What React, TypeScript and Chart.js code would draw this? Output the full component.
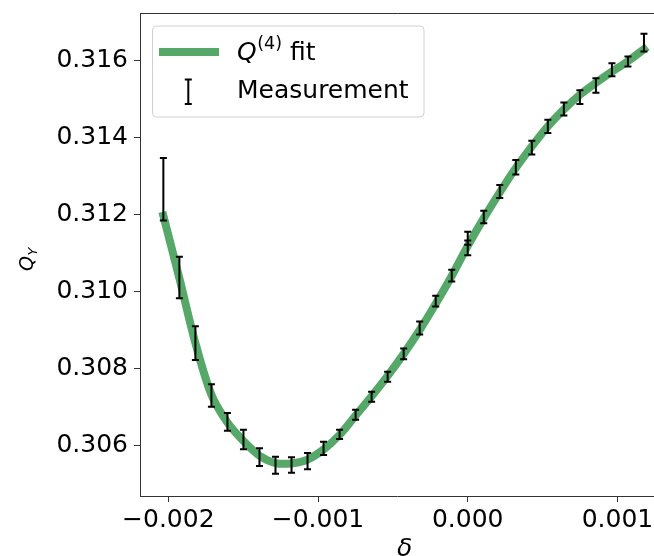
import React, { useEffect, useRef } from 'react';
import { Chart, registerables } from 'chart.js';

Chart.register(...registerables);

// ---- data ----
const MEAS_DELTA = [
  -0.002033, -0.001926, -0.001819, -0.001712, -0.001605, -0.001498, -0.001391, -0.001284,
  -0.001177, -0.00107, -0.000963, -0.000856, -0.000749, -0.000642, -0.000535, -0.000428,
  -0.000321, -0.000214, -0.000107, 0.0, 0.0, 0.000107, 0.000214, 0.000321, 0.000428,
  0.000535, 0.000642, 0.000749, 0.000856, 0.000963, 0.00107, 0.001177,
];
const MEAS_Q = [
  0.31265, 0.31036, 0.30866, 0.3073, 0.30662, 0.30616, 0.3057, 0.30549,
  0.3055, 0.3056, 0.30593, 0.30629, 0.3068, 0.30727, 0.30779, 0.30838,
  0.30905, 0.30975, 0.31041, 0.31138, 0.31113, 0.31193, 0.31259, 0.31322, 0.31373,
  0.31428, 0.31473, 0.31504, 0.31534, 0.31575, 0.31596, 0.31645,
];
const MEAS_ERR = [
  0.00081, 0.00054, 0.00044, 0.00029, 0.00023, 0.00025, 0.00023, 0.00022,
  0.0002, 0.00021, 0.00017, 0.00012, 0.00013, 0.00013, 0.00013, 0.00014,
  0.00017, 0.00014, 0.00015, 0.00017, 0.00019, 0.00016, 0.00017, 0.00019, 0.00018,
  0.00017, 0.00017, 0.00018, 0.00019, 0.00017, 0.00013, 0.00023,
];
const FIT_DELTA = [
  -0.002033, -0.001926, -0.001819, -0.001712, -0.001605, -0.001498, -0.001391, -0.001284,
  -0.001177, -0.00107, -0.000963, -0.000856, -0.000749, -0.000642, -0.000535, -0.000428,
  -0.000321, -0.000214, -0.000107, 0.0, 0.000107, 0.000214, 0.000321, 0.000428,
  0.000535, 0.000642, 0.000749, 0.000856, 0.000963, 0.00107, 0.001177,
];
const FIT_Q = [
  0.31196, 0.31034, 0.30866, 0.30732, 0.3066, 0.30612, 0.30574, 0.30555,
  0.30554, 0.30564, 0.3059, 0.30628, 0.30678, 0.30728, 0.30781, 0.30838,
  0.309, 0.30968, 0.3104, 0.31118, 0.3119, 0.31257, 0.3132, 0.31376,
  0.31428, 0.31472, 0.3151, 0.31541, 0.3157, 0.31597, 0.31628,
];
const X_TICKS = [-0.002, -0.001, 0.0, 0.001];
const X_TICK_LABELS = ['\u22120.002', '\u22120.001', '0.000', '0.001'];
const Y_TICKS = [0.306, 0.308, 0.31, 0.312, 0.314, 0.316];
const Y_TICK_LABELS = ['0.306', '0.308', '0.310', '0.312', '0.314', '0.316'];
// visible window: the original plot continues past the right edge of the picture
const X_MIN = -0.002189;
const X_MAX = 0.001244;
const Y_MIN = 0.304695;
const Y_MAX = 0.31722;

const FIT_LABEL = 'fit';
const MEAS_LABEL = 'Measurement';
const X_TITLE = '\u03b4';
const X_TITLE_CENTER = -0.000422; // centre of the full (uncropped) axis

const FONT = '"DejaVu Sans", sans-serif';
const GREEN = '#55a868';
const SPINE = '#333333';

const errorBarPlugin = {
  id: 'errorBars',
  afterDatasetsDraw(chart: any) {
    const { ctx } = chart;
    const x = chart.scales.x;
    const y = chart.scales.y;
    const ds = chart.data.datasets[1];
    ctx.save();
    ctx.strokeStyle = '#000';
    ctx.lineWidth = 2;
    ctx.lineCap = 'butt';
    ds.data.forEach((p: any) => {
      const px = x.getPixelForValue(p.x);
      const top = y.getPixelForValue(p.y + p.err);
      const bot = y.getPixelForValue(p.y - p.err);
      ctx.beginPath();
      ctx.moveTo(px, top);
      ctx.lineTo(px, bot);
      ctx.moveTo(px - 3.5, top);
      ctx.lineTo(px + 3.5, top);
      ctx.moveTo(px - 3.5, bot);
      ctx.lineTo(px + 3.5, bot);
      ctx.stroke();
    });
    ctx.restore();
  },
};

const decorPlugin = {
  id: 'decor',
  afterDraw(chart: any) {
    const { ctx, chartArea } = chart;
    const { left, top, right } = chartArea;
    const xs = chart.scales.x;
    ctx.save();
    // top spine
    ctx.strokeStyle = SPINE;
    ctx.lineWidth = 1;
    ctx.beginPath();
    ctx.moveTo(left, Math.round(top) + 0.5);
    ctx.lineTo(right + 2, Math.round(top) + 0.5);
    ctx.stroke();

    // legend box
    const bx = left + 12.5;
    const by = top + 13;
    const bw = 271.5;
    const bh = 91;
    ctx.beginPath();
    ctx.roundRect(bx, by, bw, bh, 4);
    ctx.fillStyle = 'rgba(255,255,255,0.8)';
    ctx.fill();
    ctx.strokeStyle = '#d0d0d0';
    ctx.lineWidth = 1;
    ctx.stroke();

    // fit handle
    ctx.strokeStyle = GREEN;
    ctx.lineWidth = 8;
    ctx.lineCap = 'butt';
    ctx.beginPath();
    ctx.moveTo(bx + 6.5, by + 26);
    ctx.lineTo(bx + 66.5, by + 26);
    ctx.stroke();

    // errorbar handle
    const ex = bx + 35.8;
    ctx.strokeStyle = '#000';
    ctx.lineWidth = 2;
    ctx.beginPath();
    ctx.moveTo(ex, by + 53.5);
    ctx.lineTo(ex, by + 78);
    ctx.moveTo(ex - 3.5, by + 53.5);
    ctx.lineTo(ex + 3.5, by + 53.5);
    ctx.moveTo(ex - 3.5, by + 78);
    ctx.lineTo(ex + 3.5, by + 78);
    ctx.stroke();

    // legend text
    ctx.fillStyle = '#000';
    ctx.textBaseline = 'alphabetic';
    ctx.textAlign = 'left';
    let tx = bx + 84.5;
    ctx.font = `italic 25px ${FONT}`;
    ctx.fillText('Q', tx, by + 34);
    tx += ctx.measureText('Q').width + 0.5;
    ctx.font = `17.5px ${FONT}`;
    ctx.fillText('(4)', tx, by + 23);
    tx += ctx.measureText('(4)').width;
    ctx.font = `25px ${FONT}`;
    ctx.fillText(' ' + FIT_LABEL, tx, by + 34);
    ctx.fillText(MEAS_LABEL, bx + 84.5, by + 72);

    // x title
    ctx.font = `italic 25px ${FONT}`;
    ctx.textAlign = 'center';
    ctx.fillText(X_TITLE, xs.getPixelForValue(X_TITLE_CENTER), 556);

    // y title  Q_Y
    ctx.translate(33, 271);
    ctx.rotate(-Math.PI / 2);
    ctx.textAlign = 'left';
    ctx.font = `italic 19px ${FONT}`;
    ctx.fillText('Q', 0, 0);
    const qw = ctx.measureText('Q').width;
    ctx.font = `italic 13px ${FONT}`;
    ctx.fillText('Y', qw + 0.5, 3.5);
    ctx.restore();
  },
};

export default function App() {
  const ref = useRef<HTMLCanvasElement | null>(null);

  useEffect(() => {
    if (!ref.current) return;
    const chart = new Chart(ref.current, {
      type: 'scatter',
      data: {
        datasets: [
          {
            type: 'line',
            label: FIT_LABEL,
            data: FIT_DELTA.map((d, i) => ({ x: d, y: FIT_Q[i] })),
            borderColor: GREEN,
            borderWidth: 8,
            borderCapStyle: 'square',
            borderJoinStyle: 'round',
            pointRadius: 0,
            tension: 0.3,
            fill: false,
          } as any,
          {
            label: MEAS_LABEL,
            data: MEAS_DELTA.map((d, i) => ({ x: d, y: MEAS_Q[i], err: MEAS_ERR[i] })),
            pointRadius: 0,
            pointHoverRadius: 0,
            showLine: false,
          } as any,
        ],
      },
      options: {
        animation: false,
        responsive: false,
        devicePixelRatio: 1,
        clip: false,
        layout: { padding: { top: 13, right: 0, left: 0, bottom: 0 } },
        plugins: {
          legend: { display: false },
          tooltip: { enabled: false },
        },
        scales: {
          x: {
            type: 'linear',
            min: X_MIN,
            max: X_MAX,
            afterBuildTicks: (scale: any) => {
              scale.ticks = X_TICKS.map((v) => ({ value: v }));
            },
            afterFit: (scale: any) => {
              scale.height = 60;
              scale.paddingLeft = 0;
              scale.paddingRight = 0;
            },
            ticks: {
              callback: (_v: any, i: number) => X_TICK_LABELS[i],
              font: { family: FONT, size: 25 },
              color: '#000',
              padding: 3,
              maxRotation: 0,
              autoSkip: false,
            },
            grid: {
              display: true,
              drawOnChartArea: false,
              drawTicks: true,
              tickLength: 6,
              color: SPINE,
              lineWidth: 1,
            },
            border: { display: true, color: SPINE, width: 1 },
          },
          y: {
            type: 'linear',
            min: Y_MIN,
            max: Y_MAX,
            afterBuildTicks: (scale: any) => {
              scale.ticks = Y_TICKS.map((v) => ({ value: v }));
            },
            afterFit: (scale: any) => {
              scale.width = 140;
              scale.paddingTop = 0;
              scale.paddingBottom = 0;
            },
            ticks: {
              callback: (_v: any, i: number) => Y_TICK_LABELS[i],
              font: { family: FONT, size: 25 },
              color: '#000',
              padding: 6,
              autoSkip: false,
            },
            grid: {
              display: true,
              drawOnChartArea: false,
              drawTicks: true,
              tickLength: 6,
              color: SPINE,
              lineWidth: 1,
            },
            border: { display: true, color: SPINE, width: 1 },
          },
        },
      } as any,
      plugins: [errorBarPlugin, decorPlugin],
    });
    return () => chart.destroy();
  }, []);

  return (
    <div
      style={{
        position: 'fixed',
        left: 0,
        top: 0,
        width: 654,
        height: 556,
        overflow: 'hidden',
        background: '#fff',
      }}
    >
      <canvas ref={ref} width={654} height={556} style={{ display: 'block', width: 654, height: 556 }} />
    </div>
  );
}
